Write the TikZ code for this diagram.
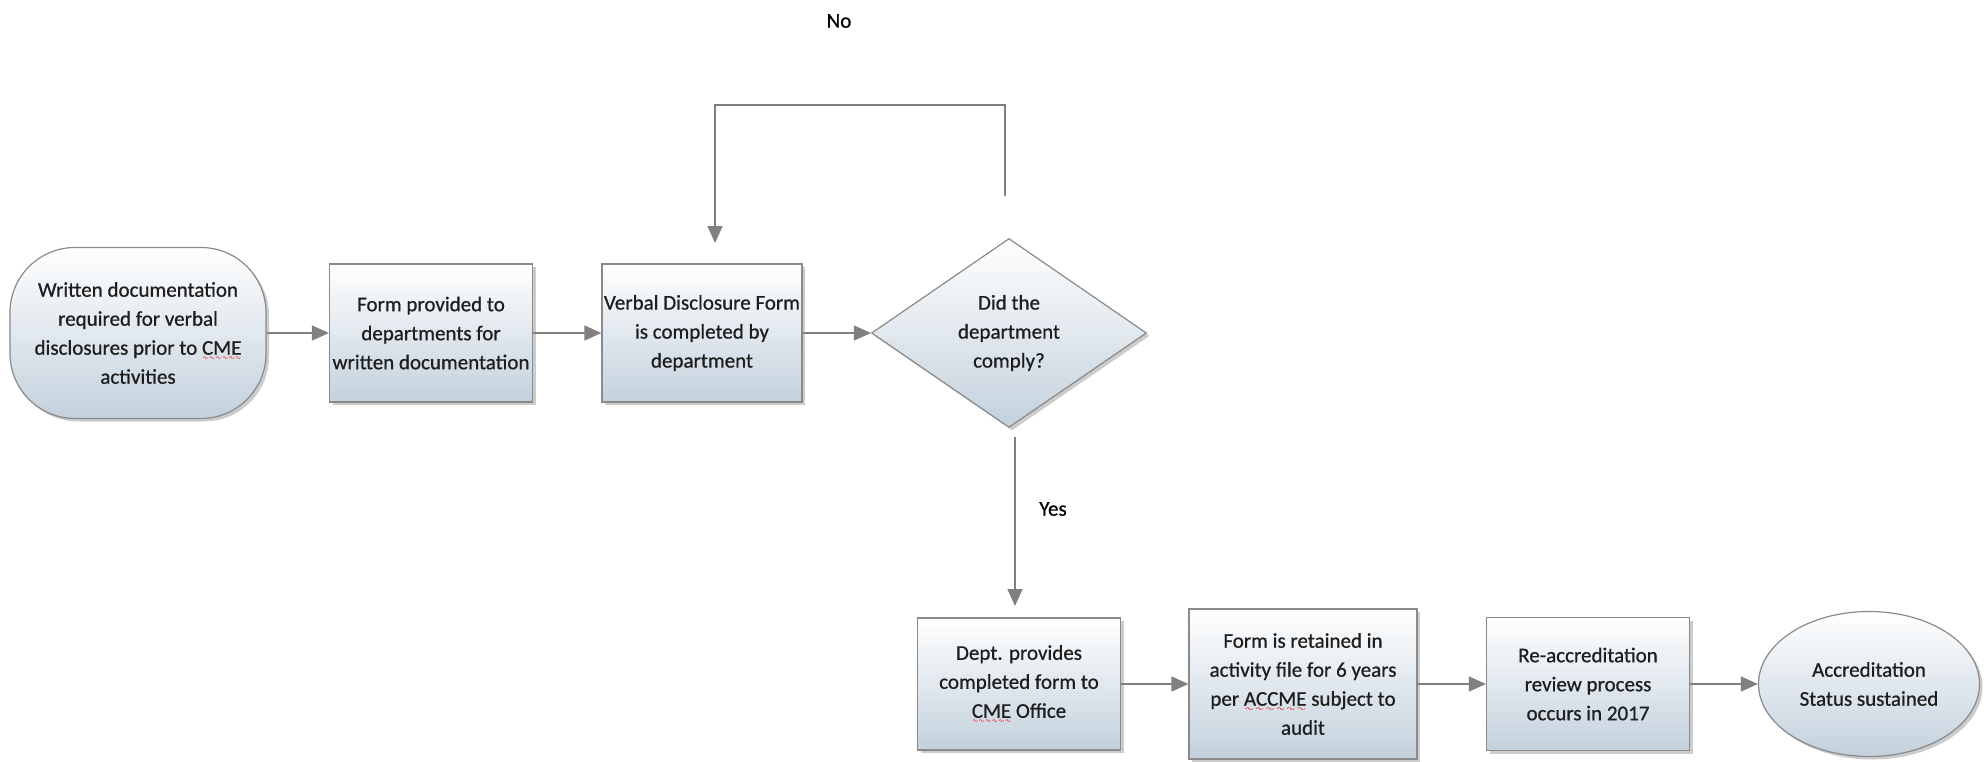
\documentclass[tikz,border=0pt]{standalone}
\usepackage{fontspec}
\setmainfont{Carlito}
\newfontface\heavy{Carlito}[FakeBold=0.7]
\newfontfamily\djv{DejaVu Sans}
\usetikzlibrary{shapes.geometric,arrows.meta,shadows}
\newcommand\redwave[1]{\setbox0\hbox{#1}\rlap{\raisebox{-5pt}{\color{red}\resizebox{\wd0}{2.6pt}{\djv ∿∿∿∿∿∿}}}#1}
\definecolor{lineg}{HTML}{808080}
\definecolor{boxb}{HTML}{8A8A8A}
\definecolor{fillb}{HTML}{C3D1DD}
\definecolor{txt}{HTML}{1E1E1E}
\tikzset{
  base/.style={draw=boxb, line width=1.2pt, top color=white, bottom color=fillb,
    text=txt, font=\heavy\fontsize{21}{29}\selectfont, align=center, inner sep=2pt,
    drop shadow={shadow xshift=3pt, shadow yshift=-3pt, fill=black!40}},
  procbox/.style={base, rectangle},
  conn/.style={draw=lineg, line width=1.5pt, -{Triangle[length=17pt,width=15pt]}},
  lbl/.style={text=black, font=\heavy\fontsize{21}{29}\selectfont},
}
\begin{document}
\begin{tikzpicture}[x=1pt,y=-1pt]
\useasboundingbox (0,0) rectangle (1987,761);
\node[base, rectangle, rounded corners=65pt, minimum width=256pt, minimum height=171pt] (start) at (138,333)
  {Written documentation\\required for verbal\\disclosures prior to \redwave{CME}\\activities};
\node[procbox, minimum width=203pt, minimum height=138pt] (box2) at (431,333)
  {Form provided to\\departments for\\written documentation};
\node[procbox, minimum width=200pt, minimum height=138pt] (box3) at (702,333)
  {Verbal Disclosure Form\\is completed by\\department};
\node[base, diamond, minimum width=275pt, minimum height=189pt, inner sep=0pt] (dia) at (1009,333)
  {Did the\\department\\comply?};
\node[procbox, minimum width=203pt, minimum height=132pt] (dept) at (1019,684)
  {Dept. provides\\completed form to\\\redwave{CME} Office};
\node[procbox, minimum width=228pt, minimum height=150pt] (ret) at (1303,684)
  {Form is retained in\\activity file for 6 years\\per \redwave{ACCME} subject to\\audit};
\node[procbox, minimum width=203pt, minimum height=133pt] (reacc) at (1588,684)
  {Re-accreditation\\review process\\occurs in 2017};
\node[base, ellipse, minimum width=221pt, minimum height=145pt, inner sep=0pt] (end) at (1869,684)
  {Accreditation\\Status sustained};
\node[lbl] (no) at (839,21) {No};
\node[lbl] (yes) at (1053,509) {Yes};
\coordinate (l1) at (1005,196);
\coordinate (ltop) at (1005,105);
\coordinate (l2) at (715,243);
\coordinate (y1) at (1015,437);
\coordinate (y2) at (1015,606);
\draw[conn] (start) -- (box2);
\draw[conn] (box2) -- (box3);
\draw[conn] (box3) -- (dia);
\draw[conn] (l1) -- (ltop) -| (l2);
\draw[conn] (y1) -- (y2);
\draw[conn] (dept) -- (ret);
\draw[conn] (ret) -- (reacc);
\draw[conn] (reacc) -- (end);
\end{tikzpicture}
\end{document}
